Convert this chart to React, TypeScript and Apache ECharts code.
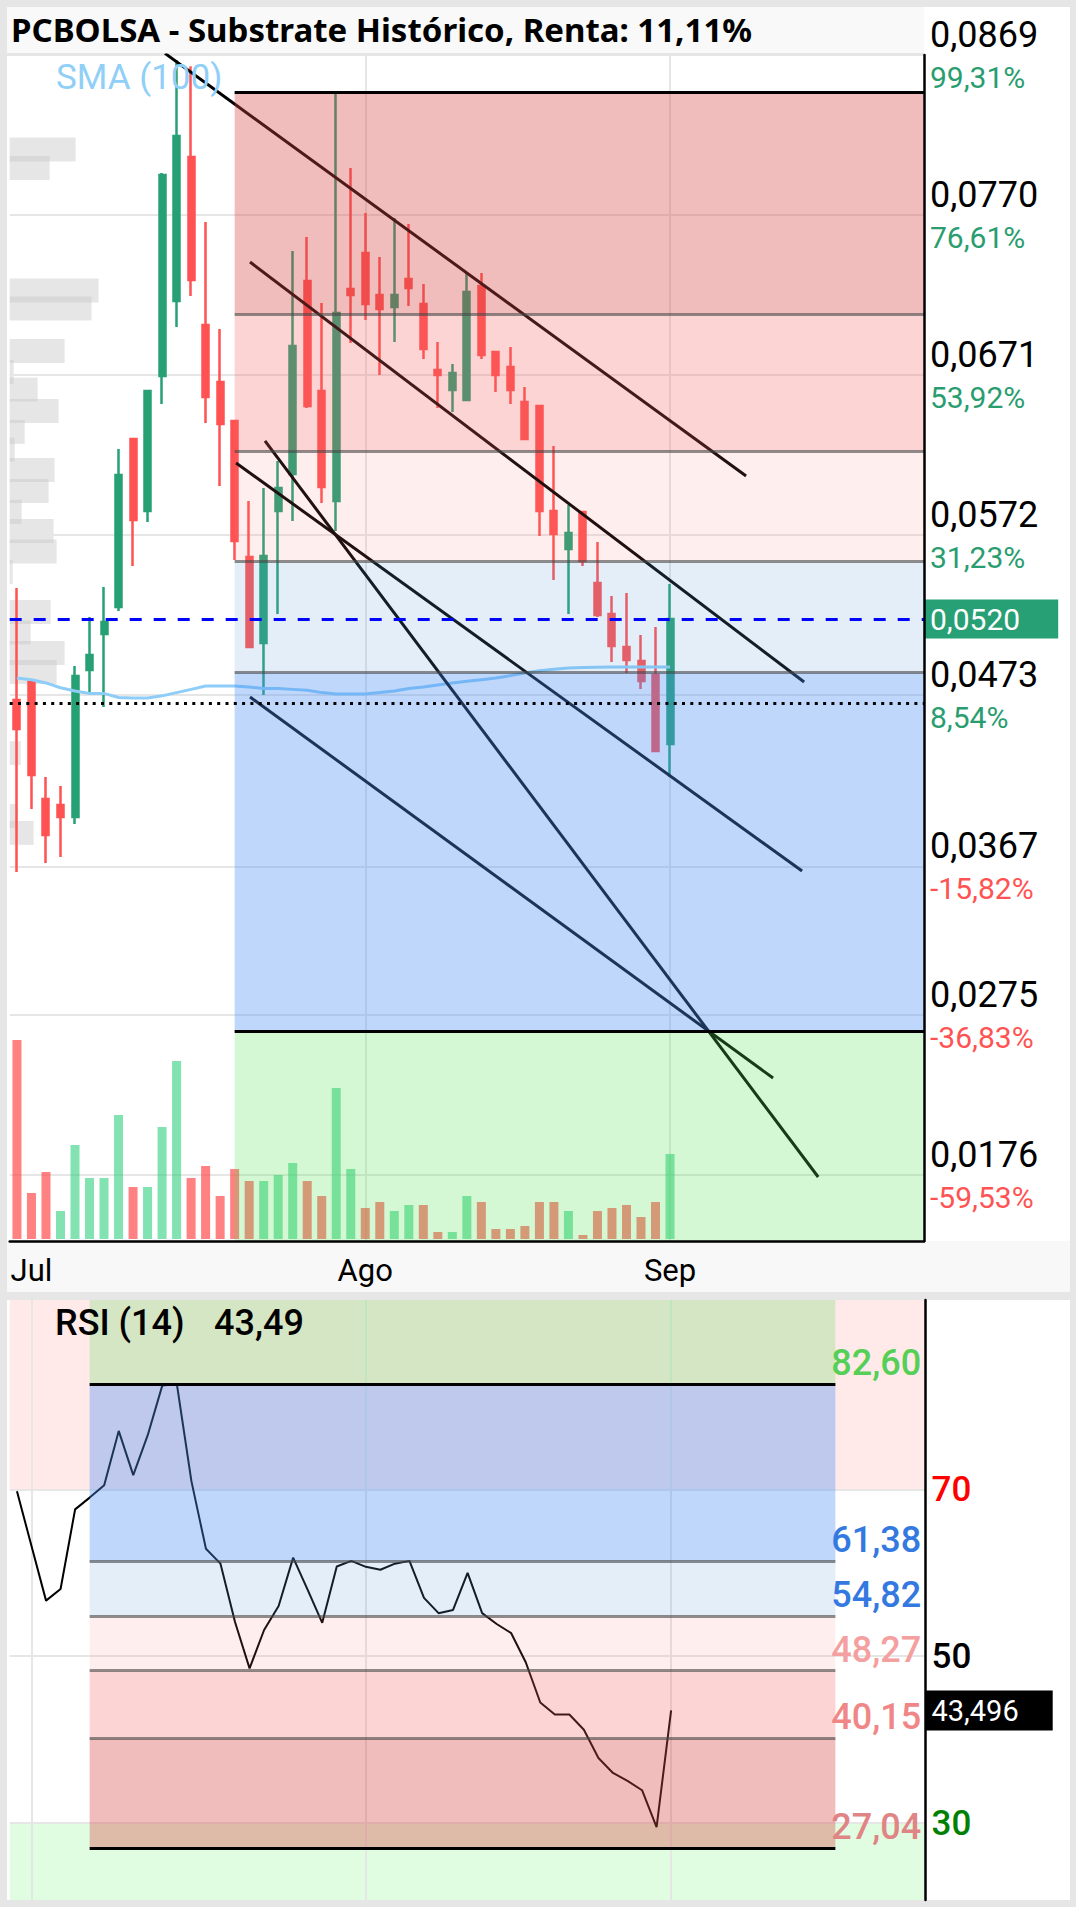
import React, { useEffect, useRef } from "react";
import * as echarts from "echarts";

// ---------------- DATA ----------------
const openP = [0.04699, 0.04811, 0.04087, 0.0405, 0.03976, 0.04885, 0.05108, 0.05275, 0.06314, 0.05869, 0.06704, 0.07168, 0.08059, 0.0702, 0.06667, 0.06426, 0.05584, 0.05052, 0.05869, 0.06098, 0.07292, 0.06611, 0.05931, 0.07242, 0.07465, 0.07205, 0.07131, 0.07304, 0.07149, 0.06741, 0.06617, 0.06555, 0.07261, 0.06852, 0.0676, 0.06543, 0.06518, 0.05869, 0.05634, 0.05863, 0.05423, 0.05232, 0.05027, 0.04941, 0.04854, 0.04427];
const closeP = [0.0452, 0.04235, 0.03864, 0.03976, 0.04848, 0.04978, 0.05182, 0.06091, 0.05813, 0.06611, 0.07948, 0.08189, 0.07298, 0.06574, 0.06407, 0.05683, 0.05027, 0.0559, 0.06011, 0.0689, 0.06518, 0.06017, 0.07094, 0.07205, 0.07149, 0.07119, 0.07205, 0.07248, 0.06871, 0.0671, 0.06723, 0.07224, 0.06834, 0.0671, 0.06617, 0.06314, 0.05869, 0.05726, 0.05733, 0.05559, 0.05225, 0.05034, 0.04947, 0.04817, 0.04384, 0.052];
const lowP = [0.03635, 0.04025, 0.03691, 0.03728, 0.03932, 0.04743, 0.04656, 0.0525, 0.05528, 0.05801, 0.06531, 0.07007, 0.07199, 0.06413, 0.06023, 0.05566, 0.05021, 0.0473, 0.05232, 0.05807, 0.06506, 0.05918, 0.05745, 0.06908, 0.0705, 0.0671, 0.06914, 0.07137, 0.06809, 0.06506, 0.06481, 0.06549, 0.06809, 0.06605, 0.06531, 0.06308, 0.05714, 0.05442, 0.05232, 0.05528, 0.05213, 0.04935, 0.04866, 0.04767, 0.0438, 0.04223];
const highP = [0.05392, 0.04811, 0.04223, 0.04167, 0.0491, 0.05213, 0.05399, 0.06252, 0.06314, 0.06611, 0.0796, 0.08659, 0.0862, 0.07657, 0.06995, 0.06426, 0.05931, 0.06011, 0.06178, 0.07477, 0.07564, 0.07156, 0.08455, 0.07991, 0.07712, 0.0744, 0.07682, 0.07644, 0.07273, 0.06914, 0.06778, 0.07341, 0.07341, 0.06852, 0.06883, 0.06636, 0.06518, 0.06271, 0.05906, 0.05863, 0.05677, 0.05343, 0.05361, 0.05102, 0.05151, 0.05417];
const volume = [199, 46, 67, 28, 94, 61, 61, 124, 52, 52, 112, 178, 61, 73, 43, 70, 58, 58, 64, 76, 58, 43, 151, 70, 31, 37, 28, 34, 34, 7, 7, 43, 37, 10, 10, 13, 37, 37, 28, 4, 28, 31, 34, 22, 37, 85];
const sma100 = [0.04835, 0.04825, 0.04805, 0.04775, 0.04755, 0.0474, 0.0474, 0.04715, 0.04712, 0.04712, 0.04725, 0.04745, 0.04765, 0.04786, 0.04786, 0.04786, 0.0478, 0.0477, 0.0477, 0.04765, 0.0476, 0.04745, 0.04737, 0.04736, 0.04736, 0.04745, 0.04755, 0.0477, 0.0478, 0.04792, 0.04804, 0.04815, 0.04825, 0.04835, 0.0485, 0.04866, 0.0488, 0.0489, 0.04897, 0.049, 0.04902, 0.04903, 0.04903, 0.04903, 0.04903, 0.04903];
const rsi14 = [69.76, 63.2, 56.66, 58.05, 67.59, 69.0, 70.49, 76.99, 71.69, 76.51, 82.44, 82.6, 70.97, 62.87, 61.09, 54.1, 48.55, 53.14, 56.02, 61.81, 57.95, 54.0, 60.75, 61.42, 60.71, 60.36, 61.09, 61.42, 56.99, 55.16, 55.54, 59.98, 55.16, 53.86, 52.76, 49.28, 44.46, 43.02, 43.02, 41.19, 37.81, 36.02, 35.07, 33.95, 29.52, 43.5];

const priceTicks = [0.0869, 0.077, 0.0671, 0.0572, 0.0473, 0.0367, 0.0275, 0.0176];
const pctTicks = ["99,31%", "76,61%", "53,92%", "31,23%", "8,54%", "-15,82%", "-36,83%", "-59,53%"];
const rsiTicks = [30, 50, 70];
const xTickIndex = [1, 24, 45];
const xTickText = ["Jul", "Ago", "Sep"];
const mainVLines = [24, 45];
const rsiVLines = [1, 24, 45];

const priceMin = 0.01352;
const priceMax = 0.0869;
const volMax = 199;
const rsiMin = 20.8;
const rsiMax = 92.67;

const lastPrice = 0.052;
const basePrice = 0.0468;
const lastRsi = 43.496;

const fibHigh = 0.0846;
const fibLow = 0.0265;
const fibRatios = [0, 0.236, 0.382, 0.5, 0.618, 1];
const fibStart = 15;
const rsiFibLevels = [82.6, 61.38, 54.82, 48.27, 40.15, 27.04];
const rsiFibText = ["82,60", "61,38", "54,82", "48,27", "40,15", "27,04"];
const rsiFibStart = 5;
const rsiFibEnd = 56.3;

const trendLines = [
  [[10.2, 0.087], [50.24, 0.06085]],
  [[16.06, 0.07409], [54.24, 0.04811]],
  [[15.1, 0.06166], [54.1, 0.03641]],
  [[17.09, 0.06302], [55.21, 0.01748]],
  [[16.06, 0.04718], [52.1, 0.0236]],
];

const profilePrice = [0.08105, 0.07991, 0.07233, 0.07122, 0.06859, 0.06729, 0.0662, 0.06487, 0.06358, 0.06249, 0.06122, 0.05992, 0.05863, 0.05745, 0.05618, 0.05491, 0.05244, 0.05117, 0.0499, 0.04873, 0.04371, 0.03982, 0.03877];
const profileVol = [66, 40, 89, 82, 55, 4, 28, 49, 15, 5, 45, 39, 12, 44, 47, 3, 41, 21, 55, 47, 11, 8, 24];
const profileHalf = 0.00074;
const profileMax = 916;

// ---------------- STYLE ----------------
const UP = "#26a074";
const DOWN = "#ff5252";
const VOL_UP = "rgba(40,205,120,0.58)";
const VOL_DOWN = "rgba(255,70,70,0.68)";
const Z_DARKRED = "rgba(215,70,70,0.36)";
const Z_PINK = "rgba(245,95,95,0.27)";
const Z_LPINK = "rgba(245,120,120,0.13)";
const Z_LBLUE = "rgba(100,160,220,0.18)";
const Z_BLUE = "rgba(75,145,245,0.36)";
const Z_GREEN = "rgba(90,225,90,0.26)";
const FIB_MID = "rgba(70,70,70,0.6)";
const GRIDC = "#e6e6e6";
const FONT = "Roboto";
const CLEAR = "rgba(0,0,0,0)";

const X_LEFT = 9.7;
const X_W = 914.3;
const X_MIN = -0.5;
const X_MAX = 62.5;

function tradingDays(n: number): string[] {
  const out: string[] = [];
  const d = new Date(Date.UTC(2024, 5, 28));
  while (out.length < n) {
    const wd = d.getUTCDay();
    const s = d.toISOString().slice(0, 10);
    if (wd !== 0 && wd !== 6 && s !== "2024-08-15") out.push(s);
    d.setUTCDate(d.getUTCDate() + 1);
  }
  return out;
}
const categories = tradingDays(63);

function nearest(arr: number[], v: number) {
  let k = 0;
  for (let i = 1; i < arr.length; i++) if (Math.abs(arr[i] - v) < Math.abs(arr[k] - v)) k = i;
  return k;
}

function buildOption() {
  const mainFib = fibRatios.map((r) => fibHigh - r * (fibHigh - fibLow));
  const mainZoneColors = [Z_DARKRED, Z_PINK, Z_LPINK, Z_LBLUE, Z_BLUE];
  const rsiZoneColors = [Z_BLUE, Z_LBLUE, Z_LPINK, Z_PINK, Z_DARKRED];
  const rsiLabelColors = ["#55cf55", "#3379e0", "#3379e0", "#f4a0a0", "#f08686", "#e08585"];

  const volData = volume.map((v, i) => {
    const up = i === 0 ? closeP[0] >= openP[0] : closeP[i] >= closeP[i - 1];
    return { value: v, itemStyle: { color: up ? VOL_UP : VOL_DOWN } };
  });

  const bg = (x: number, y: number, w: number, h: number, fill: string) => ({
    type: "rect", z: -10, silent: true, shape: { x, y, width: w, height: h }, style: { fill },
  });
  const txt = (x: number, y: number, text: string, font: string, fill: string) => ({
    type: "text", z: 100, silent: true, x, y,
    style: { text, font, fill, align: "left", verticalAlign: "middle", textAlign: "left", textVerticalAlign: "middle" },
  });

  const series: any[] = [];

  // main grid lines
  series.push({
    type: "line", xAxisIndex: 1, yAxisIndex: 0, data: [[X_MIN, priceMax]], symbol: "none",
    lineStyle: { opacity: 0 }, silent: true, z: 1,
    markLine: {
      silent: true, z: 1, precision: 6, symbol: ["none", "none"], label: { show: false },
      lineStyle: { color: GRIDC, width: 2, type: "solid" },
      data: [...priceTicks.map((v) => ({ yAxis: v })), ...mainVLines.map((i) => ({ xAxis: i }))],
    },
  });
  // volume profile
  series.push({
    type: "line", xAxisIndex: 2, yAxisIndex: 0, data: [[0, priceMax]], symbol: "none",
    lineStyle: { opacity: 0 }, silent: true, z: 1,
    markArea: {
      silent: true, z: 1, label: { show: false },
      itemStyle: { color: "rgba(200,200,200,0.45)" },
      data: profilePrice.map((p, k) => [
        { xAxis: 0, yAxis: p + profileHalf },
        { xAxis: profileVol[k], yAxis: p - profileHalf },
      ]),
    },
  });
  // volume bars
  series.push({
    type: "bar", xAxisIndex: 3, yAxisIndex: 1, data: volData, barWidth: 9, z: 2, silent: true,
  });
  // candles
  series.push({
    type: "candlestick", xAxisIndex: 0, yAxisIndex: 0, z: 3, silent: true,
    barWidth: 6.5,
    data: openP.map((o, i) => [o, closeP[i], lowP[i], highP[i]]),
    itemStyle: { color: UP, color0: DOWN, borderColor: UP, borderColor0: DOWN, borderWidth: 2.5 },
  });
  // SMA
  series.push({
    type: "line", xAxisIndex: 0, yAxisIndex: 0, data: sma100, showSymbol: false, symbol: "none",
    lineStyle: { color: "#8ecdf8", width: 3 }, z: 4, silent: true,
  });
  // trend lines
  trendLines.forEach((tl) => {
    series.push({
      type: "line", xAxisIndex: 1, yAxisIndex: 0, data: tl, symbol: "none", showSymbol: false,
      lineStyle: { color: "#000", width: 3 }, z: 4, silent: true,
    });
  });
  // fib (main)
  series.push({
    type: "line", xAxisIndex: 1, yAxisIndex: 0, data: [[fibStart, fibHigh]], symbol: "none",
    lineStyle: { opacity: 0 }, silent: true, z: 6,
    markArea: {
      silent: true, z: 6, label: { show: false },
      data: [
        ...mainZoneColors.map((c, k) => [
          { xAxis: fibStart, yAxis: mainFib[k], itemStyle: { color: c } },
          { xAxis: X_MAX, yAxis: mainFib[k + 1] },
        ]),
        [{ xAxis: fibStart, yAxis: fibLow, itemStyle: { color: Z_GREEN } }, { xAxis: X_MAX, yAxis: priceMin }],
      ],
    },
    markLine: {
      silent: true, z: 7, precision: 6, symbol: ["none", "none"], label: { show: false },
      data: mainFib.map((v, k) => [
        { coord: [fibStart, v], lineStyle: { color: k === 0 || k === mainFib.length - 1 ? "#000" : FIB_MID, width: 3, type: "solid" } },
        { coord: [X_MAX, v] },
      ]),
    },
  });
  // price level lines + last price box
  series.push({
    type: "line", xAxisIndex: 1, yAxisIndex: 0, data: [[X_MIN, lastPrice]], symbol: "none",
    lineStyle: { opacity: 0 }, silent: true, z: 8,
    markLine: {
      silent: true, z: 8, precision: 6, symbol: ["none", "none"],
      data: [
        {
          yAxis: basePrice,
          lineStyle: { color: "#000", width: 3, type: [3, 5.3] },
          label: { show: false },
        },
        {
          yAxis: lastPrice,
          lineStyle: { color: "#0000ff", width: 3, type: [12, 12] },
          label: {
            show: true, position: "end", distance: 0, formatter: "0,0520",
            backgroundColor: UP, color: "#fff", fontSize: 30, fontFamily: FONT,
            padding: [5, 38, 4, 6],
          },
        },
      ],
    },
  });

  // RSI background + grid
  series.push({
    type: "line", xAxisIndex: 4, yAxisIndex: 2, data: [[X_MIN, 50]], symbol: "none",
    lineStyle: { opacity: 0 }, silent: true, z: 0,
    markArea: {
      silent: true, z: 0, label: { show: false },
      data: [
        [{ xAxis: X_MIN, yAxis: rsiMax, itemStyle: { color: "#ffe9e9" } }, { xAxis: X_MAX, yAxis: 70 }],
        [{ xAxis: X_MIN, yAxis: 30, itemStyle: { color: "#e1fde1" } }, { xAxis: X_MAX, yAxis: rsiMin }],
      ],
    },
    markLine: {
      silent: true, z: 1, precision: 6, symbol: ["none", "none"], label: { show: false },
      lineStyle: { color: GRIDC, width: 2, type: "solid" },
      data: [...rsiTicks.map((v) => ({ yAxis: v })), ...rsiVLines.map((i) => ({ xAxis: i }))],
    },
  });
  // RSI line
  series.push({
    type: "line", xAxisIndex: 4, yAxisIndex: 2, data: rsi14.map((r, i) => [i, r]), symbol: "none",
    showSymbol: false, lineStyle: { color: "#000", width: 2 }, z: 4, silent: true,
  });
  // RSI fib
  series.push({
    type: "line", xAxisIndex: 4, yAxisIndex: 2, data: [[rsiFibStart, 50]], symbol: "none",
    lineStyle: { opacity: 0 }, silent: true, z: 6,
    markArea: {
      silent: true, z: 6, label: { show: false },
      data: [
        [{ xAxis: rsiFibStart, yAxis: rsiMax, itemStyle: { color: Z_GREEN } }, { xAxis: rsiFibEnd, yAxis: rsiFibLevels[0] }],
        ...rsiZoneColors.map((c, k) => [
          { xAxis: rsiFibStart, yAxis: rsiFibLevels[k], itemStyle: { color: c } },
          { xAxis: rsiFibEnd, yAxis: rsiFibLevels[k + 1] },
        ]),
      ],
    },
    markLine: {
      silent: true, z: 7, precision: 6, symbol: ["none", "none"], label: { show: false },
      data: rsiFibLevels.map((v, k) => [
        { coord: [rsiFibStart, v], lineStyle: { color: k === 0 || k === rsiFibLevels.length - 1 ? "#000" : FIB_MID, width: 3, type: "solid" } },
        { coord: [rsiFibEnd, v] },
      ]),
    },
  });
  // RSI last value box
  series.push({
    type: "line", xAxisIndex: 4, yAxisIndex: 2, data: [[X_MIN, lastRsi]], symbol: "none",
    lineStyle: { opacity: 0 }, silent: true, z: 9,
    markLine: {
      silent: true, z: 9, precision: 6, symbol: ["none", "none"],
      data: [
        {
          yAxis: lastRsi,
          lineStyle: { color: CLEAR, width: 1, type: "solid" },
          label: {
            show: true, position: "end", distance: 0, formatter: "43,496",
            backgroundColor: "#000", color: "#fff", fontSize: 29, fontFamily: FONT,
            padding: [6, 34, 5, 6],
          },
        },
      ],
    },
  });
  // RSI fib labels
  series.push({
    type: "scatter", xAxisIndex: 4, yAxisIndex: 2, symbolSize: 0, silent: true, z: 9,
    itemStyle: { opacity: 1 },
    data: rsiFibLevels.map((v, k) => ({
      value: [62.2, v],
      label: {
        show: true, position: "left", distance: 0, offset: [0, -21], formatter: rsiFibText[k],
        color: rsiLabelColors[k], fontSize: 36, fontWeight: 500, fontFamily: FONT, opacity: 1,
      },
    })),
  });

  return {
    animation: false,
    grid: [
      { left: X_LEFT, top: 55, width: X_W, height: 1186, outerBoundsMode: "none", containLabel: false },
      { left: X_LEFT, top: 1040, width: X_W, height: 199, outerBoundsMode: "none", containLabel: false },
      { left: X_LEFT, top: 1300, width: X_W + 1.5, height: 600, outerBoundsMode: "none", containLabel: false },
    ],
    xAxis: [
      {
        type: "category", gridIndex: 0, data: categories, boundaryGap: true, z: 10,
        axisLine: { show: true, onZero: false, lineStyle: { color: "#000", width: 2.5 } },
        axisTick: { show: false },
        splitLine: { show: false },
        axisLabel: {
          interval: (idx: number) => xTickIndex.indexOf(idx) >= 0,
          formatter: (_v: string, idx: number) => xTickText[xTickIndex.indexOf(idx)] || "",
          color: "#000", fontSize: 31, fontFamily: FONT, margin: 14,
        },
      },
      { type: "value", gridIndex: 0, min: X_MIN, max: X_MAX, show: false },
      { type: "value", gridIndex: 0, min: 0, max: profileMax, show: false },
      { type: "category", gridIndex: 1, data: categories, boundaryGap: true, show: false },
      { type: "value", gridIndex: 2, min: X_MIN, max: X_MAX, show: false },
    ],
    yAxis: [
      {
        type: "value", gridIndex: 0, position: "right", min: priceMin, max: priceMax, z: 10,
        axisLine: { show: true, onZero: false, lineStyle: { color: "#000", width: 2.5 } },
        axisTick: { show: false },
        splitLine: { show: false },
        axisLabel: {
          customValues: priceTicks,
          margin: 6,
          formatter: (v: number) => {
            const k = nearest(priceTicks, v);
            const p = priceTicks[k].toFixed(4).replace(".", ",");
            const q = pctTicks[k];
            return `{p|${p}}\n{${q.charAt(0) === "-" ? "n" : "g"}|${q}}`;
          },
          rich: {
            p: { fontSize: 36, fontFamily: FONT, color: "#000", lineHeight: 44 },
            g: { fontSize: 30, fontFamily: FONT, color: "#2a9d70", lineHeight: 40 },
            n: { fontSize: 30, fontFamily: FONT, color: "#ff5252", lineHeight: 40 },
          },
        },
      },
      { type: "value", gridIndex: 1, min: 0, max: volMax, show: false },
      {
        type: "value", gridIndex: 2, position: "right", min: rsiMin, max: rsiMax, z: 10,
        axisLine: { show: true, onZero: false, lineStyle: { color: "#000", width: 2.5 } },
        axisTick: { show: false },
        splitLine: { show: false },
        axisLabel: {
          customValues: rsiTicks,
          margin: 6,
          formatter: (v: number) => {
            const k = nearest(rsiTicks, v);
            const key = k === 0 ? "g" : k === 1 ? "b" : "r";
            return `{${key}|${rsiTicks[k]}}`;
          },
          rich: {
            g: { fontSize: 35, fontWeight: 500, fontFamily: FONT, color: "#008000" },
            b: { fontSize: 35, fontWeight: 500, fontFamily: FONT, color: "#000" },
            r: { fontSize: 35, fontWeight: 500, fontFamily: FONT, color: "#ff0000" },
          },
        },
      },
    ],
    graphic: {
      elements: [
        bg(7, 7, 917, 47, "#f9f9f9"),
        bg(7, 53, 917, 3, "#e6e6e6"),
        bg(7, 56, 917, 1185, "#ffffff"),
        bg(924, 7, 146, 1234, "#ffffff"),
        bg(7, 1241, 1063, 51, "#f8f8f8"),
        bg(7, 1300, 1063, 600, "#ffffff"),
        txt(11, 29, "PCBOLSA - Substrate Histórico, Renta: 11,11%", 'bold 33px "Noto Sans"', "#000"),
        txt(56, 77, "SMA (100)", `35px ${FONT}`, "#8fcff8"),
        txt(55, 1323, "RSI (14)", `500 36px ${FONT}`, "#000"),
        txt(214, 1323, "43,49", `500 36px ${FONT}`, "#000"),
      ],
    },
    series,
  };
}

export default function App() {
  const ref = useRef<HTMLDivElement>(null);
  useEffect(() => {
    if (!ref.current) return;
    const chart = echarts.init(ref.current, undefined, { renderer: "svg" });
    chart.setOption(buildOption() as any);
    return () => chart.dispose();
  }, []);
  return (
    <div
      ref={ref}
      style={{ position: "absolute", left: 0, top: 0, width: 1076, height: 1907, background: "#e6e6e6" }}
    />
  );
}
